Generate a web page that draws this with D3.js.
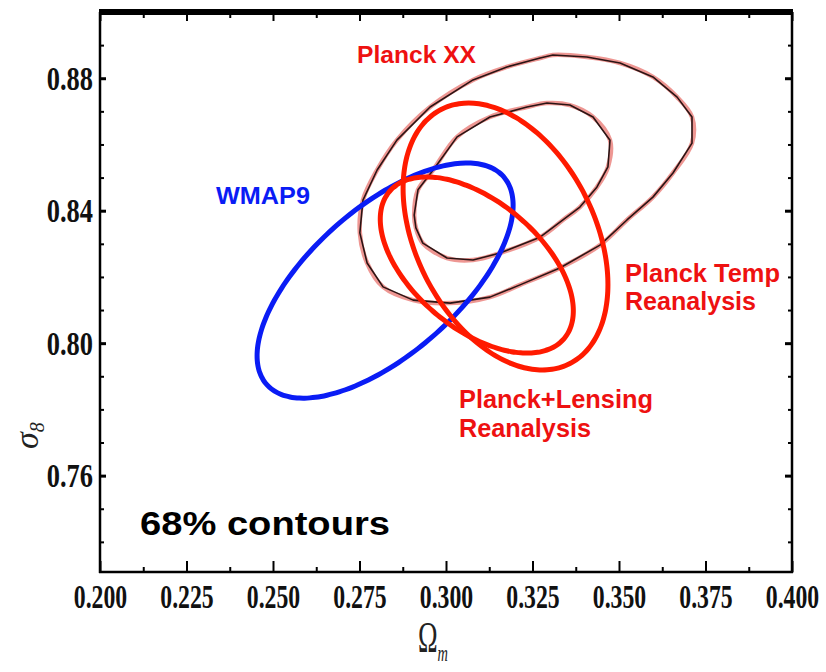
<!DOCTYPE html>
<html>
<head>
<meta charset="utf-8">
<script src="https://cdn.jsdelivr.net/npm/d3@7"></script>
<style>
  html, body { margin: 0; padding: 0; background: #fff; }
  svg { display: block; }
</style>
</head>
<body>
<svg id="chart" width="826" height="672"></svg>
<script>
// ---------- data ----------
const xMajorTicks = [0.200, 0.225, 0.250, 0.275, 0.300, 0.325, 0.350, 0.375, 0.400];
const xMinorTicks = [0.2125, 0.2375, 0.2625, 0.2875, 0.3125, 0.3375, 0.3625, 0.3875];
const xTickLabels = ["0.200", "0.225", "0.250", "0.275", "0.300", "0.325", "0.350", "0.375", "0.400"];
const yMajorTicks = [0.76, 0.80, 0.84, 0.88];
const yMinorTicks = [0.74, 0.75, 0.77, 0.78, 0.79, 0.81, 0.82, 0.83, 0.85, 0.86, 0.87, 0.89];
const yTickLabels = ["0.76", "0.80", "0.84", "0.88"];

// Gaussian 68% ellipses: centre, half extents, correlation
const ellipseNames = ["WMAP9", "Planck Temp Reanalysis", "Planck+Lensing Reanalysis"];
const ellipseCenterX = [0.2824, 0.3172, 0.3089];
const ellipseCenterY = [0.8189, 0.8322, 0.8236];
const ellipseHalfWidth = [0.0370, 0.0296, 0.0279];
const ellipseHalfHeight = [0.0355, 0.0403, 0.0266];
const ellipseCorrelation = [0.64, -0.36, -0.52];
const ellipseColors = ["#0a1cf5", "#ff1a00", "#ff1a00"];

// Planck XX digitised contours (Omega_m, sigma_8)
const planckXXInnerOm = [0.2908, 0.2919, 0.2963, 0.3032, 0.3127, 0.3234, 0.3292, 0.3358, 0.3425, 0.3474,
  0.3468, 0.3436, 0.3387, 0.3338, 0.3272, 0.3156, 0.3078, 0.3003, 0.2933, 0.2913];
const planckXXInnerS8 = [0.8387, 0.8463, 0.8523, 0.8623, 0.8683, 0.8713, 0.8725, 0.8719, 0.8683, 0.8613,
  0.8532, 0.8471, 0.8411, 0.8372, 0.8320, 0.8272, 0.8251, 0.8257, 0.8302, 0.8348];
const planckXXOuterOm = [0.2751, 0.2760, 0.2801, 0.2858, 0.2954, 0.3078, 0.3176, 0.3272, 0.3309, 0.3407,
  0.3503, 0.3598, 0.3668, 0.3711, 0.3711, 0.3656, 0.3598, 0.3523, 0.3445, 0.3329,
  0.3214, 0.3127, 0.3012, 0.2905, 0.2818, 0.2772];
const planckXXOuterS8 = [0.8333, 0.8432, 0.8523, 0.8613, 0.8713, 0.8795, 0.8834, 0.8861, 0.8870, 0.8864,
  0.8846, 0.8804, 0.8743, 0.8683, 0.8604, 0.8514, 0.8441, 0.8372, 0.8296, 0.8227,
  0.8176, 0.8139, 0.8121, 0.8130, 0.8170, 0.8242];

// annotations
const labelTexts = ["Planck XX", "WMAP9", "Planck Temp", "Reanalysis", "Planck+Lensing", "Reanalysis", "68% contours"];
const labelColors = ["#ee1111", "#0a1cf5", "#ee1111", "#ee1111", "#ee1111", "#ee1111", "#000000"];

// ---------- layout ----------
const svg = d3.select("#chart");
const L = 100, R = 792, T = 12, B = 572;
const x = d3.scaleLinear().domain([0.200, 0.400]).range([L, R]);
const y = d3.scaleLinear().domain([0.7309, 0.900]).range([B, T]);

const tickFont = "'Liberation Serif', 'DejaVu Serif', serif";

function styleAxis(g) {
  g.select(".domain").remove();
  g.selectAll(".tick line").attr("stroke", "#000").attr("stroke-width", 2);
}

// bottom
svg.append("g").attr("transform", `translate(0,${B})`)
  .call(d3.axisBottom(x).tickValues(xMinorTicks).tickSize(-5).tickFormat(""))
  .call(styleAxis);
const gxb = svg.append("g").attr("transform", `translate(0,${B})`)
  .call(d3.axisBottom(x).tickValues(xMajorTicks).tickSize(-11).tickPadding(0)
    .tickFormat((d, i) => xTickLabels[i]))
  .call(styleAxis);
gxb.selectAll(".tick text")
  .attr("dy", null).attr("y", 36).attr("x", 0)
  .attr("transform", "scale(0.72,1)")
  .attr("fill", "#111")
  .style("font-family", tickFont).style("font-weight", "bold").style("font-size", "33px");

// top
svg.append("g").attr("transform", `translate(0,${T})`)
  .call(d3.axisTop(x).tickValues(xMinorTicks).tickSize(-6).tickFormat(""))
  .call(styleAxis);
svg.append("g").attr("transform", `translate(0,${T})`)
  .call(d3.axisTop(x).tickValues(xMajorTicks).tickSize(-9).tickFormat(""))
  .call(styleAxis);

// left
svg.append("g").attr("transform", `translate(${L},0)`)
  .call(d3.axisLeft(y).tickValues(yMinorTicks).tickSize(-4).tickFormat(""))
  .call(styleAxis);
const gyl = svg.append("g").attr("transform", `translate(${L},0)`)
  .call(d3.axisLeft(y).tickValues(yMajorTicks).tickSize(-6).tickPadding(7)
    .tickFormat((d, i) => yTickLabels[i]))
  .call(styleAxis);
gyl.selectAll(".tick line").attr("stroke-width", 3);
gyl.selectAll(".tick text")
  .attr("dy", "0.34em").attr("x", -7 / 0.8)
  .attr("transform", "scale(0.8,1)")
  .attr("fill", "#111")
  .style("font-family", tickFont).style("font-weight", "bold").style("font-size", "33px");

// right
svg.append("g").attr("transform", `translate(${R},0)`)
  .call(d3.axisRight(y).tickValues(yMinorTicks).tickSize(-4).tickFormat(""))
  .call(styleAxis);
const gyr = svg.append("g").attr("transform", `translate(${R},0)`)
  .call(d3.axisRight(y).tickValues(yMajorTicks).tickSize(-7).tickFormat(""))
  .call(styleAxis);
gyr.selectAll(".tick line").attr("stroke-width", 3);

// frame
svg.append("line").attr("x1", L).attr("x2", L).attr("y1", T).attr("y2", B + 1).attr("stroke", "#000").attr("stroke-width", 2.5);
svg.append("line").attr("x1", R).attr("x2", R).attr("y1", T).attr("y2", B + 1).attr("stroke", "#000").attr("stroke-width", 2.5);
svg.append("line").attr("x1", L - 1).attr("x2", R + 1).attr("y1", B).attr("y2", B).attr("stroke", "#000").attr("stroke-width", 2.5);
svg.append("line").attr("x1", L - 1).attr("x2", R + 1).attr("y1", T).attr("y2", T).attr("stroke", "#000").attr("stroke-width", 6);

// ---------- Planck XX contours ----------
const contourSets = [
  d3.zip(planckXXOuterOm, planckXXOuterS8),
  d3.zip(planckXXInnerOm, planckXXInnerS8)
];
const halo = d3.line().x(d => x(d[0])).y(d => y(d[1])).curve(d3.curveCatmullRomClosed);
const core = d3.line().x(d => x(d[0])).y(d => y(d[1])).curve(d3.curveLinearClosed);
svg.append("g").selectAll("path").data(contourSets).join("path")
  .attr("d", halo).attr("fill", "none")
  .attr("stroke", "#e0413a").attr("stroke-opacity", 0.55).attr("stroke-width", 4.5);
svg.append("g").selectAll("path").data(contourSets).join("path")
  .attr("d", core).attr("fill", "none")
  .attr("stroke", "#2a1414").attr("stroke-width", 1.6).attr("stroke-linejoin", "round");

// ---------- ellipses ----------
const steps = d3.range(0, 361, 3).map(a => a * Math.PI / 180);
const ellipseData = ellipseNames.map((n, i) => {
  const delta = Math.acos(ellipseCorrelation[i]);
  return steps.map(t => [
    ellipseCenterX[i] + ellipseHalfWidth[i] * Math.cos(t),
    ellipseCenterY[i] + ellipseHalfHeight[i] * Math.cos(t - delta)
  ]);
});
const eLine = d3.line().x(d => x(d[0])).y(d => y(d[1])).curve(d3.curveCardinalClosed);
svg.append("g").selectAll("path").data(ellipseData).join("path")
  .attr("d", d => eLine(d.slice(0, -1)))
  .attr("fill", "none")
  .attr("stroke", (d, i) => ellipseColors[i])
  .attr("stroke-width", 5);

// ---------- annotations ----------
const labelX = [357, 216, 625, 625, 459, 459, 140];
const labelY = [63, 204, 282, 310, 408, 437, 535];
const labelW = [119, 94, 155, 131, 194, 132, 250];
const labelSize = [24, 24, 25, 25, 25, 25, 34];
svg.append("g").selectAll("text").data(labelTexts).join("text")
  .attr("x", (d, i) => labelX[i]).attr("y", (d, i) => labelY[i])
  .attr("fill", (d, i) => labelColors[i])
  .style("font-family", "'Liberation Sans', Arial, sans-serif")
  .style("font-weight", "bold")
  .style("font-size", (d, i) => labelSize[i] + "px")
  .attr("textLength", (d, i) => labelW[i]).attr("lengthAdjust", "spacingAndGlyphs")
  .text(d => d);

// ---------- axis titles ----------
const xt = svg.append("text").attr("transform", "translate(418,652) scale(0.6,1)")
  .style("font-family", tickFont).attr("fill", "#222");
xt.append("tspan").style("font-size", "44px").text("Ω");
xt.append("tspan").attr("dy", 9).style("font-size", "24px").style("font-style", "italic").text("m");

const yt = svg.append("text").attr("transform", "translate(38,449) rotate(-90)")
  .style("font-family", tickFont).attr("fill", "#222");
yt.append("tspan").style("font-size", "34px").style("font-style", "italic").text("σ");
yt.append("tspan").attr("dy", 6).style("font-size", "20px").style("font-style", "italic").text("8");
</script>
</body>
</html>
